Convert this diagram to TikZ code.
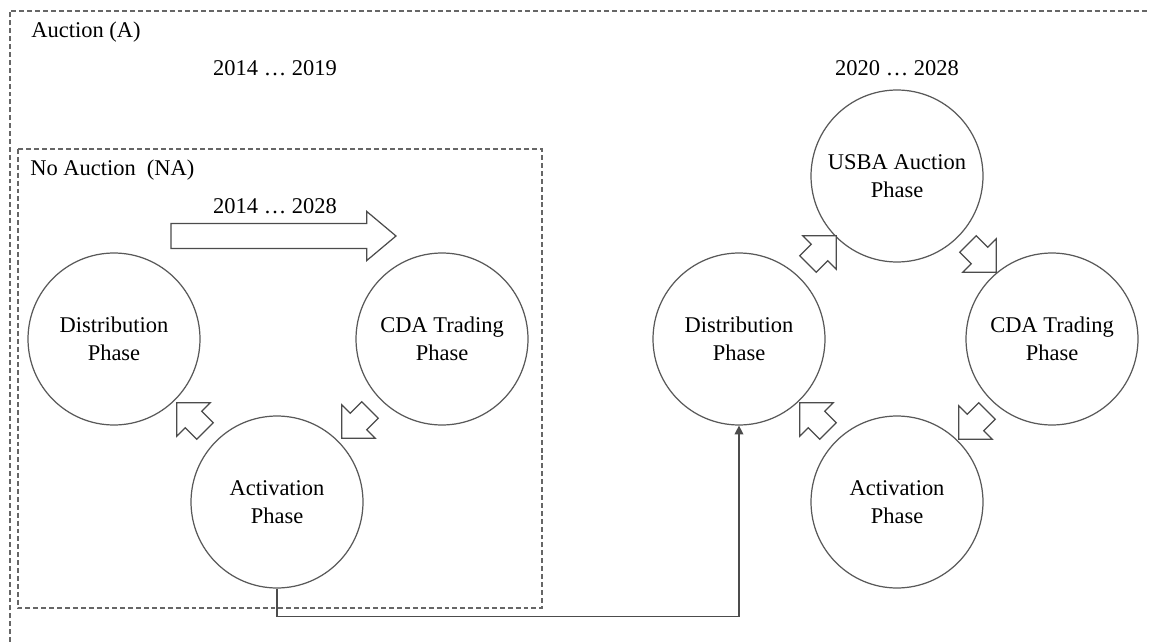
\documentclass[tikz,border=0pt]{standalone}
\usepackage{fontspec}
\setmainfont{Liberation Serif}
\usetikzlibrary{shapes.arrows,arrows.meta}
\begin{document}
\begin{tikzpicture}[x=0.02cm, y=-0.02cm, >={Triangle[length=5pt,width=5pt]},
  phase/.style={draw=black!65, line width=0.7pt, circle, minimum size=3.44cm, inner sep=0pt, align=center, font=\fontsize{12.8}{15.9}\selectfont},
  dashedbox/.style={draw=black!60, line width=0.7pt, dash pattern=on 2.8pt off 1.7pt},
  boxtitle/.style={inner sep=0pt, font=\fontsize{12.8}{15.9}\selectfont},
  flowarrow/.style={draw=black!70, line width=0.7pt, fill=white, single arrow, single arrow head extend=0.24cm, inner xsep=0pt, inner ysep=0.22cm, minimum height=0.8cm},
  ]
\useasboundingbox (0,0) rectangle (1150,642);
% outer and inner frames
\draw[dashedbox] (10,642) |- (1150,11);
\draw[dashedbox] (18,149) rectangle (542,608);
\node[boxtitle, anchor=west] (ta) at (31,32) {Auction (A)};
\node[boxtitle] (ya) at (275,68) {2014 \dots\ 2019};
\node[boxtitle] (yb) at (897,68) {2020 \dots\ 2028};
\node[boxtitle, anchor=west] (tna) at (30,170) {No Auction\hspace{3pt} (NA)};
\node[boxtitle] (yna) at (275,206) {2014 \dots\ 2028};
% no auction cycle
\node[phase] (distL) at (114,339) {Distribution\\Phase};
\node[phase] (cdaL) at (442,339) {CDA Trading\\Phase};
\node[phase] (actL) at (277,502) {Activation\\Phase};
\node[flowarrow, inner ysep=0.24cm, single arrow tip angle=80, minimum height=4.5cm] (fa1) at (276,236) {};
\node[flowarrow, rotate=-135] (fa2) at (360,420) {};
\node[flowarrow, rotate=135] (fa3) at (195,421) {};
% auction cycle
\node[phase] (distR) at (739,339) {Distribution\\Phase};
\node[phase] (usba) at (897,176) {USBA Auction\\Phase};
\node[phase] (cdaR) at (1052,339) {CDA Trading\\Phase};
\node[phase] (actR) at (897,502) {Activation\\Phase};
\node[flowarrow, rotate=45] (fb1) at (818,254) {};
\node[flowarrow, rotate=-45] (fb2) at (978,254) {};
\node[flowarrow, rotate=-135] (fb3) at (977,421) {};
\node[flowarrow, rotate=135] (fb4) at (818,421) {};
% switch to auction
\draw[->, black!70, line width=0.7pt] (actL.south) -- ++(0,28) -| (distR.south);
\end{tikzpicture}
\end{document}
